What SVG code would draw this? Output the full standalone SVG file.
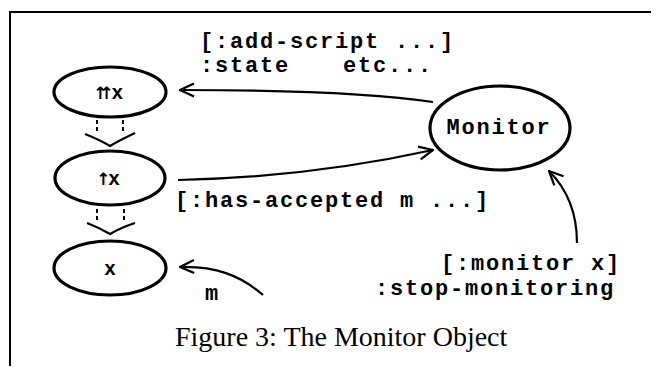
<svg xmlns="http://www.w3.org/2000/svg" width="656" height="367" viewBox="0 0 656 367">
<style>
.node{fill:none;stroke:#000;stroke-width:3.2}
.conn{fill:none;stroke:#000;stroke-width:2.2}
.dash{fill:none;stroke:#000;stroke-width:2;stroke-dasharray:4 3}
.tt{font-family:"Liberation Mono","Courier New",monospace;font-weight:bold;font-size:22px;letter-spacing:1.8px;fill:#000}
.sym{font-family:"Liberation Sans","DejaVu Sans",sans-serif;font-weight:bold;font-size:20px;fill:#000}
.arw{font-family:"DejaVu Sans",sans-serif;font-weight:bold;font-size:17px}
.cap{font-family:"Liberation Serif","Times New Roman",serif;font-size:28px;fill:#000}
.frame{fill:none;stroke:#000;stroke-width:2}
</style>
<defs>
<marker id="arr" viewBox="0 0 16 16" refX="15" refY="8" markerWidth="16" markerHeight="16" markerUnits="userSpaceOnUse" orient="auto">
<path d="M1,1.5 L15,8 L1,14.5" fill="none" stroke="#000" stroke-width="2.2"/>
</marker>
</defs>
<rect width="656" height="367" fill="#fff"/>
<path class="frame" d="M10,366 L10,12 L651,12"/>

<g id="node-xx">
<ellipse class="node" cx="110" cy="92" rx="56" ry="25"/>
<text class="sym" x="108" y="99" text-anchor="middle"><tspan class="arw" letter-spacing="-8">↑↑</tspan><tspan dx="6">x</tspan></text>
</g>
<g id="node-x1">
<ellipse class="node" cx="110" cy="178" rx="55" ry="27"/>
<text class="sym" x="108" y="185" text-anchor="middle"><tspan class="arw" letter-spacing="-6">↑</tspan><tspan dx="4">x</tspan></text>
</g>
<g id="node-x">
<ellipse class="node" cx="110" cy="268" rx="56" ry="27"/>
<text class="sym" x="110" y="275" text-anchor="middle">x</text>
</g>
<g id="node-monitor">
<ellipse class="node" cx="500" cy="128" rx="70" ry="42"/>
<text class="tt" x="499" y="134" text-anchor="middle">Monitor</text>
</g>

<g id="connectors">
<path class="dash" d="M97,120 L97,133 M123,120 L123,133"/>
<path class="conn" d="M85,134 Q100,140 110,146 Q120,140 135,133"/>
<path class="dash" d="M97,209 L97,223 M124,209 L124,223"/>
<path class="conn" d="M87,223 Q100,228 110,234 Q120,228 135,223"/>
<path class="conn" marker-end="url(#arr)" d="M433,102 C380,94 300,90 180,90"/>
<path class="conn" marker-end="url(#arr)" d="M178,180 C280,178 360,166 433,150"/>
<path class="conn" marker-end="url(#arr)" d="M263,295 C240,275 215,266 180,267"/>
<path class="conn" marker-end="url(#arr)" d="M577,243 C577,215 568,190 549,171"/>
</g>

<g id="labels">
<text class="tt" x="200" y="48">[:add-script ...]</text>
<text class="tt" x="200" y="72">:state<tspan x="343">etc...</tspan></text>
<text class="tt" x="175" y="207">[:has-accepted m ...]</text>
<text class="tt" x="205" y="300">m</text>
<text class="tt" x="441" y="270">[:monitor x]</text>
<text class="tt" x="375" y="295">:stop-monitoring</text>
<text class="cap" x="175" y="346">Figure 3: The Monitor Object</text>
</g>
</svg>
